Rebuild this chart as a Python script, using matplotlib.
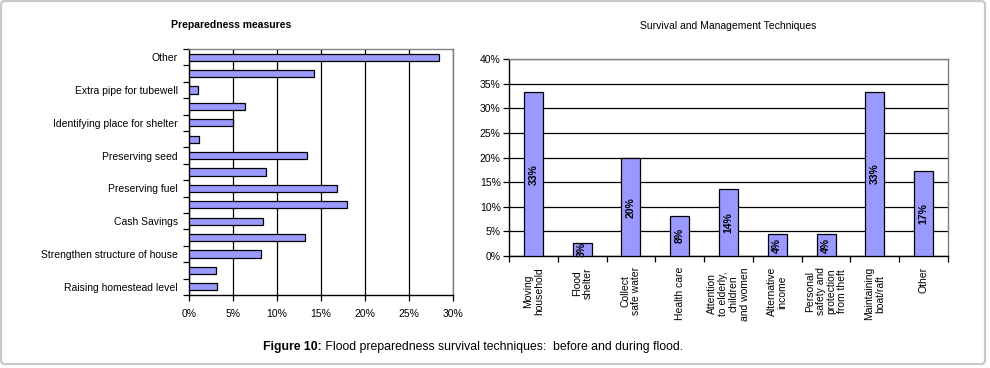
import numpy as np
import matplotlib
matplotlib.use("Agg")
import matplotlib.pyplot as plt
from matplotlib.patches import FancyBboxPatch
from matplotlib.ticker import FixedLocator, PercentFormatter

plt.rcParams["font.family"] = ["Liberation Sans", "DejaVu Sans"]

# ── data ────────────────────────────────────────────────────
# left panel, listed top to bottom (unlabelled bars have "")
prep_labels = ["Other", "", "Extra pipe for tubewell", "",
               "Identifying place for shelter", "", "Preserving seed", "",
               "Preserving fuel", "", "Cash Savings", "",
               "Strengthen structure of house", "", "Raising homestead level"]
prep_values = [28.4, 14.2, 1.0, 6.4, 5.0, 1.1, 13.4, 8.8,
               16.8, 17.9, 8.4, 13.2, 8.2, 3.1, 3.2]
prep_ticks = [0, 5, 10, 15, 20, 25, 30]

# right panel
surv_labels = ["Moving\nhousehold", "Flood\nshelter", "Collect\nsafe water",
               "Health care", "Attention\nto elderly,\nchildren\nand women",
               "Alternative\nincome",
               "Personal\nsafety and\nprotection\nfrom theft",
               "Maintaining\nboat/raft", "Other"]
surv_values = [33.2, 2.6, 19.8, 8.2, 13.7, 4.4, 4.4, 33.4, 17.2]
surv_ticks = [0, 5, 10, 15, 20, 25, 30, 35, 40]

BAR = "#9999FF"
GRAY = "#808080"
W, H = 990, 368
FS = 7.5

fig = plt.figure(figsize=(W / 100, H / 100), dpi=100)

# background frame + caption
bg = fig.add_axes([0, 0, 1, 1])
bg.set_xlim(0, W); bg.set_ylim(H, 0); bg.axis("off")
bg.add_patch(FancyBboxPatch((1, 1), 984, 363,
                            boxstyle="round,pad=0,rounding_size=4",
                            fc="none", ec="#c8c8c8", lw=1.6))
t1 = bg.text(263, 347, "Figure 10:", fontsize=8.8, fontweight="bold",
             ha="left", va="center")
bg.annotate(" Flood preparedness survival techniques:  before and during flood.",
            xy=(1, 0), xycoords=t1, ha="left", va="bottom", fontsize=8.8)


def px_axes(x0, x1, ytop, ybot):
    return fig.add_axes([x0 / W, 1 - ybot / H, (x1 - x0) / W, (ybot - ytop) / H])


def style(ax):
    for s in ("top", "right"):
        ax.spines[s].set_color(GRAY)
    for s in ("left", "bottom"):
        ax.spines[s].set_color("black")
    for s in ax.spines.values():
        s.set_linewidth(1.0)


# ── left: Preparedness measures ─────────────────────────────
ax1 = px_axes(189, 453, 49, 295)
n = len(prep_values)
pos = np.arange(n)
ax1.barh(pos, prep_values, height=0.45, color=BAR, edgecolor="black",
         linewidth=0.9, zorder=3)
ax1.set_ylim(n - 0.5, -0.5)
ax1.set_xlim(0, 30)
ax1.set_yticks(pos)
ax1.set_yticklabels(prep_labels, fontsize=FS)
ax1.yaxis.set_minor_locator(FixedLocator(np.arange(n + 1) - 0.5))
ax1.tick_params(axis="y", which="major", length=0, pad=8)
ax1.tick_params(axis="y", which="minor", length=4, width=0.9)
ax1.set_xticks(prep_ticks)
ax1.xaxis.set_major_formatter(PercentFormatter(decimals=0))
ax1.tick_params(axis="x", length=4, width=0.9, labelsize=FS, pad=6)
ax1.grid(axis="x", color="black", lw=0.9, zorder=0)
style(ax1)
ax1.text(0.16, 1.096, "Preparedness measures", transform=ax1.transAxes,
         fontsize=FS, fontweight="bold", ha="center", va="center")

# ── right: Survival and Management Techniques ───────────────
ax2 = px_axes(509, 948, 59, 256)
m = len(surv_values)
xp = np.arange(m)
bars = ax2.bar(xp, surv_values, width=0.39, color=BAR, edgecolor="black",
               linewidth=0.9, zorder=3)
for b, v in zip(bars, surv_values):
    ax2.text(b.get_x() + b.get_width() / 2, v / 2, f"{v:.0f}%",
             rotation=90, ha="center", va="center", fontsize=FS,
             fontweight="bold", zorder=4)
ax2.set_xlim(-0.5, m - 0.5)
ax2.set_ylim(0, 40)
ax2.set_yticks(surv_ticks)
ax2.yaxis.set_major_formatter(PercentFormatter(decimals=0))
ax2.tick_params(axis="y", length=4, width=0.9, labelsize=FS, pad=2)
ax2.set_xticks(xp)
ax2.set_xticklabels(surv_labels, rotation=90, fontsize=FS,
                    multialignment="center", linespacing=1.1)
ax2.xaxis.set_minor_locator(FixedLocator(np.arange(m + 1) - 0.5))
ax2.tick_params(axis="x", which="major", length=0, pad=8)
ax2.tick_params(axis="x", which="minor", length=4, width=0.9)
ax2.grid(axis="y", color="black", lw=0.9, zorder=0)
style(ax2)
ax2.text(0.5, 1.17, "Survival and Management Techniques",
         transform=ax2.transAxes, fontsize=FS, ha="center", va="center")

fig.savefig("out.png", dpi=100)
